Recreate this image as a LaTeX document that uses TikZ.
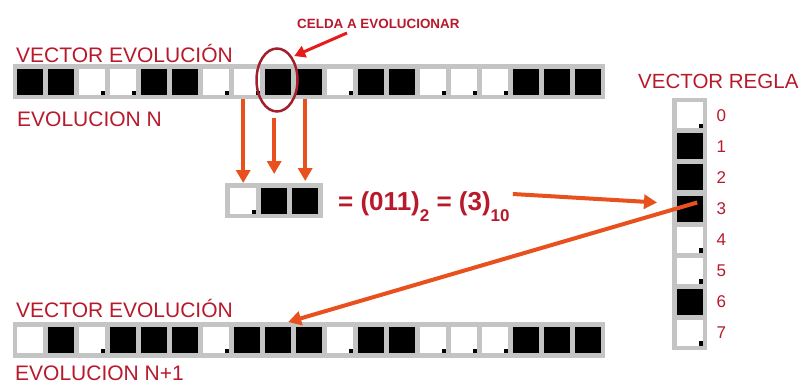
\documentclass[tikz,border=0pt]{standalone}
\usepackage{fontspec}
\setmainfont{Liberation Sans}
\usetikzlibrary{arrows.meta,shapes.geometric,calc}
\definecolor{lblred}{HTML}{B81A2C}
\definecolor{arrorange}{HTML}{E8501E}
\definecolor{pointred}{HTML}{E81A1A}
\definecolor{ringred}{HTML}{A3202A}
\definecolor{bargray}{HTML}{C4C4C4}
\newcommand{\sizedfont}[1]{\fontsize{#1}{#1}\selectfont}

\begin{document}
\begin{tikzpicture}[x=1pt,y=-1pt,
  bar/.style={fill=bargray, draw=none, inner sep=0, anchor=north west},
  on/.style={fill=black, minimum size=26pt, inner sep=0, anchor=north west},
  off/.style={fill=white, minimum size=26pt, inner sep=0, anchor=north west,
    path picture={\fill[black] ([xshift=-4.5pt,yshift=4.5pt]path picture bounding box.south east)
      rectangle (path picture bounding box.south east);}},
  blank/.style={fill=white, minimum size=26pt, inner sep=0, anchor=north west},
  lbl/.style={text=lblred, inner sep=0, anchor=base west},
  flow/.style={draw=arrorange, line width=4pt, -{Triangle[width=14pt,length=13pt]}},
  pointer/.style={draw=pointred, line width=3pt, -{Triangle[width=12pt,length=11pt]}}
]
\fill[white] (0,0) rectangle (804,383);
\useasboundingbox (0,0) rectangle (804,383);

% ---- generation N ----
\node[lbl, font=\sizedfont{21}] (vtop) at (16,62) {VECTOR EVOLUCIÓN};
\node[lbl, font=\sizedfont{21}] (ntop) at (17,126) {EVOLUCION N};
\node[bar, minimum width=592pt, minimum height=35pt] (topbar) at (13,64) {};
\foreach \v [count=\i from 0] in {1,1,0,0,1,1,0,0,1,1,0,1,1,0,0,0,1,1,1} {
  \ifnum\v=1 \node[on] (t\i) at ({17+31*\i},69) {};
  \else \node[off] (t\i) at ({17+31*\i},69) {}; \fi
}

% ---- highlighted cell ----
\node[ellipse, draw=ringred, line width=2.5pt, minimum width=41pt, minimum height=63pt,
  inner sep=0] (ring) at (277,80) {};
\node[lbl, font=\bfseries\sizedfont{13.4}] (celda) at (297,28) {CELDA A EVOLUCIONAR};
\draw[pointer, shorten >=2pt] ($(celda.base west)+(50,5)$) -- (ring.north east);

% ---- neighbourhood ----
\node[bar, minimum width=98pt, minimum height=35pt] (midbar) at (225,183) {};
\node[off] (m0) at (230,188) {};
\node[on] (m1) at (261,188) {};
\node[on] (m2) at (292,188) {};
\node[lbl, font=\bfseries\sizedfont{26}] (formula) at (338,210)
  {= (011)\raisebox{-11pt}{\sizedfont{17}2} = (3)\raisebox{-11pt}{\sizedfont{17}10}};

\draw[flow] (m0 |- topbar.south) -- (m0 |- midbar.north);
\draw[flow] ($(m1 |- ring.south)+(0,5)$) -- ($(m1 |- midbar.north)+(0,-9)$);
\draw[flow] (m2 |- topbar.south) -- ($(m2 |- midbar.north)+(0,-2)$);

% ---- rule vector ----
\node[lbl, font=\sizedfont{20.5}] (vrule) at (638,88) {VECTOR REGLA};
\node[bar, minimum width=35pt, minimum height=252pt] (rulebar) at (672,98) {};
\foreach \v [count=\i from 0] in {0,1,1,1,0,0,1,0} {
  \ifnum\v=1 \node[on] (r\i) at (677,{102+31.1*\i}) {};
  \else \node[off] (r\i) at (677,{102+31.1*\i}) {}; \fi
  \node[text=lblred, inner sep=0, anchor=west, font=\sizedfont{17}] at ($(r\i.east)+(13,0)$) {\i};
}

\draw[flow] ($(formula.base east)+(3,-16)$) -- ($(r3.west)+(-20,-6)$);

% ---- generation N+1 ----
\node[lbl, font=\sizedfont{21}] (vbot) at (16,317) {VECTOR EVOLUCIÓN};
\node[bar, minimum width=592pt, minimum height=36pt] (botbar) at (13,322) {};
\foreach \v [count=\i from 0] in {2,1,0,1,1,1,0,1,1,1,0,1,1,0,0,0,1,1,1} {
  \ifnum\v=1 \node[on] (b\i) at ({17+31*\i},327) {};
  \else\ifnum\v=2 \node[blank] (b\i) at ({17+31*\i},327) {};
  \else \node[off] (b\i) at ({17+31*\i},327) {}; \fi\fi
}
\node[lbl, font=\sizedfont{21}] (nbot) at (15,380) {EVOLUCION N+1};

\draw[flow] ($(r3.center)+(7,-6)$) -- ($(b8.north)+(10,-5)$);
\end{tikzpicture}
\end{document}
